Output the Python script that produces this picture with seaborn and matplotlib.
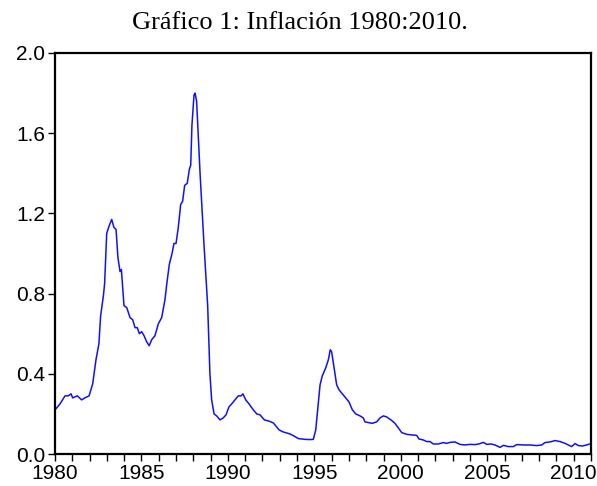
import numpy as np
import pandas as pd
import matplotlib
matplotlib.use("Agg")
import matplotlib.pyplot as plt
import seaborn as sns
from matplotlib.ticker import MultipleLocator

# valores (ano decimal, inflacion)
years = [
    1980.00, 1980.29, 1980.58, 1980.77, 1980.93, 1981.02, 1981.29, 1981.54, 1981.73, 1981.97,
    1982.18, 1982.37, 1982.54, 1982.64, 1982.80, 1982.87, 1982.99, 1983.14, 1983.28, 1983.41,
    1983.53, 1983.64, 1983.76, 1983.84, 1983.99, 1984.15, 1984.34, 1984.49, 1984.63, 1984.76,
    1984.88, 1985.01, 1985.15, 1985.30, 1985.45, 1985.59, 1985.78, 1985.98, 1986.17, 1986.36,
    1986.46, 1986.61, 1986.77, 1986.88, 1987.00, 1987.13, 1987.27, 1987.38, 1987.50, 1987.65,
    1987.77, 1987.85, 1987.92, 1988.04, 1988.10, 1988.19, 1988.39, 1988.62, 1988.83, 1988.96,
    1989.06, 1989.20, 1989.35, 1989.54, 1989.73, 1989.89, 1990.06, 1990.22, 1990.41, 1990.60,
    1990.76, 1990.87, 1991.03, 1991.22, 1991.47, 1991.67, 1991.86, 1992.11, 1992.34, 1992.63,
    1992.77, 1992.96, 1993.20, 1993.59, 1993.88, 1994.07, 1994.46, 1994.75, 1994.94, 1995.08,
    1995.19, 1995.33, 1995.46, 1995.66, 1995.81, 1995.92, 1996.00, 1996.16, 1996.29, 1996.43,
    1996.62, 1996.81, 1997.00, 1997.20, 1997.39, 1997.64, 1997.83, 1997.93, 1998.12, 1998.35,
    1998.60, 1998.80, 1998.99, 1999.18, 1999.43, 1999.66, 1999.86, 2000.05, 2000.34, 2000.63,
    2000.92, 2001.05, 2001.30, 2001.50, 2001.69, 2001.88, 2002.17, 2002.46, 2002.65, 2002.85,
    2003.13, 2003.42, 2003.71, 2004.00, 2004.29, 2004.52, 2004.77, 2004.97, 2005.22, 2005.45,
    2005.74, 2005.93, 2006.22, 2006.51, 2006.70, 2007.09, 2007.47, 2007.86, 2008.15, 2008.34,
    2008.63, 2008.92, 2009.21, 2009.50, 2009.69, 2009.88, 2010.08, 2010.27, 2010.50, 2010.75,
    2010.92,
]
inflacion = [
    0.22, 0.25, 0.29, 0.29, 0.30, 0.28, 0.29, 0.27, 0.28, 0.29,
    0.35, 0.47, 0.55, 0.69, 0.79, 0.85, 1.10, 1.14, 1.17, 1.13,
    1.12, 0.98, 0.91, 0.92, 0.74, 0.73, 0.68, 0.67, 0.63, 0.63,
    0.60, 0.61, 0.59, 0.56, 0.54, 0.57, 0.59, 0.65, 0.68, 0.77,
    0.845, 0.945, 1.00, 1.05, 1.05, 1.13, 1.245, 1.26, 1.34, 1.35,
    1.42, 1.44, 1.64, 1.79, 1.80, 1.76, 1.40, 1.04, 0.74, 0.40,
    0.27, 0.20, 0.19, 0.17, 0.18, 0.195, 0.235, 0.25, 0.27, 0.29,
    0.29, 0.30, 0.27, 0.25, 0.22, 0.20, 0.195, 0.17, 0.165, 0.155,
    0.14, 0.12, 0.11, 0.10, 0.087, 0.077, 0.073, 0.072, 0.073, 0.12,
    0.22, 0.345, 0.39, 0.43, 0.47, 0.52, 0.51, 0.42, 0.345, 0.32,
    0.30, 0.28, 0.26, 0.22, 0.20, 0.19, 0.18, 0.16, 0.157, 0.153,
    0.16, 0.18, 0.19, 0.185, 0.17, 0.153, 0.13, 0.107, 0.098, 0.095,
    0.093, 0.075, 0.07, 0.062, 0.062, 0.05, 0.05, 0.057, 0.053, 0.058,
    0.06, 0.048, 0.045, 0.048, 0.047, 0.05, 0.058, 0.048, 0.05, 0.045,
    0.033, 0.043, 0.037, 0.037, 0.047, 0.045, 0.045, 0.042, 0.045, 0.057,
    0.06, 0.067, 0.062, 0.053, 0.045, 0.037, 0.052, 0.042, 0.04, 0.045,
    0.05,
]
y_ticks = [0.0, 0.4, 0.8, 1.2, 1.6, 2.0]
x_ticks = [1980, 1985, 1990, 1995, 2000, 2005, 2010]

sns.set_style("ticks")
plt.rcParams["font.family"] = ["Liberation Sans", "DejaVu Sans"]

df = pd.DataFrame({"year": years, "inflacion": inflacion})

fig = plt.figure(figsize=(5.97, 4.86), dpi=100)
ax = fig.add_axes([55 / 597, 1 - 454 / 486, 536 / 597, 401 / 486])
sns.lineplot(data=df, x="year", y="inflacion", ax=ax, color="#1010ff", linewidth=1.1)

ax.set_xlim(1980, 2011)
ax.set_ylim(0, 2.0)
ax.set_yticks(y_ticks)
ax.set_yticklabels([f"{v:.1f}" for v in y_ticks])
ax.set_xticks(x_ticks)
ax.xaxis.set_minor_locator(MultipleLocator(1))
ax.set_xlabel("")
ax.set_ylabel("")
ax.tick_params(axis="both", which="both", direction="out", length=5, width=1.0,
               labelsize=15, colors="black", pad=2)
for sp in ax.spines.values():
    sp.set_visible(True)
    sp.set_linewidth(1.6)
    sp.set_color("black")

fig.text(0.503, 1 - 23 / 486, "Gráfico 1: Inflación 1980:2010.", ha="center", va="center",
         fontsize=19, color="black", family=["Liberation Serif", "DejaVu Serif"])

fig.savefig("out.png", dpi=100)
plt.close(fig)
